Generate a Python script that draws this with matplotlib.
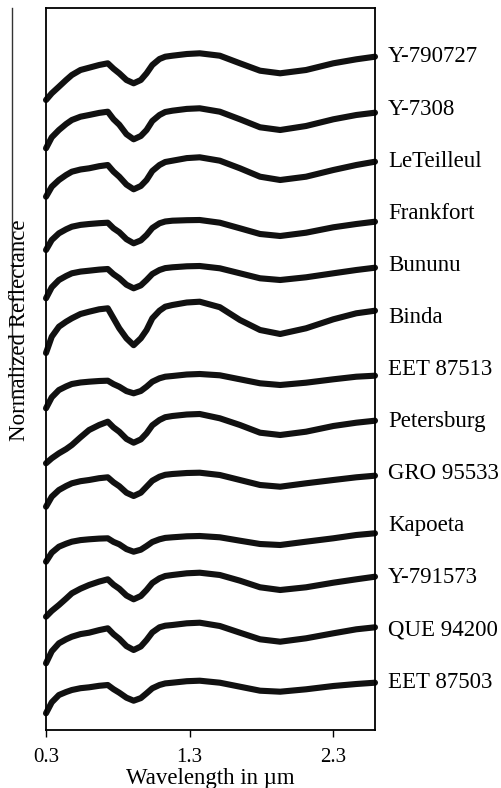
import numpy as np
import matplotlib
matplotlib.use("Agg")
import matplotlib.pyplot as plt
from matplotlib.lines import Line2D

plt.rcParams['font.family'] = ['Liberation Serif', 'DejaVu Serif']

wavelength = [0.30, 0.34, 0.39, 0.44, 0.48, 0.54, 0.60, 0.67, 0.73, 0.77,
              0.81, 0.86, 0.91, 0.96, 1.00, 1.04, 1.09, 1.13, 1.18, 1.28,
              1.37, 1.51, 1.65, 1.79, 1.93, 2.11, 2.30, 2.46, 2.59]

names = ["Y-790727", "Y-7308", "LeTeilleul", "Frankfort", "Bununu", "Binda",
         "EET 87513", "Petersburg", "GRO 95533", "Kapoeta", "Y-791573",
         "QUE 94200", "EET 87503"]

y790727 = [0.567, 0.634, 0.700, 0.767, 0.817, 0.867, 0.890, 0.917, 0.934, 0.880,
           0.834, 0.767, 0.734, 0.767, 0.834, 0.917, 0.977, 1.000, 1.010, 1.027,
           1.034, 1.010, 0.934, 0.860, 0.834, 0.867, 0.934, 0.974, 1.000]
y7308 = [0.644, 0.754, 0.827, 0.887, 0.927, 0.960, 0.977, 0.998, 1.010, 0.935,
         0.880, 0.785, 0.734, 0.767, 0.827, 0.917, 0.977, 1.007, 1.020, 1.038,
         1.044, 1.010, 0.934, 0.854, 0.827, 0.867, 0.934, 0.977, 1.000]
leteilleul = [0.650, 0.750, 0.817, 0.867, 0.900, 0.922, 0.934, 0.955, 0.967, 0.901,
              0.850, 0.771, 0.724, 0.757, 0.817, 0.907, 0.967, 0.997, 1.010, 1.036,
              1.044, 1.010, 0.934, 0.850, 0.817, 0.850, 0.917, 0.967, 1.000]
frankfort = [0.717, 0.817, 0.884, 0.924, 0.950, 0.968, 0.977, 0.985, 0.990, 0.934,
             0.895, 0.825, 0.784, 0.813, 0.867, 0.937, 0.984, 1.002, 1.010, 1.015,
             1.017, 0.990, 0.934, 0.877, 0.857, 0.890, 0.944, 0.977, 1.000]
bununu = [0.694, 0.804, 0.877, 0.917, 0.944, 0.961, 0.970, 0.981, 0.987, 0.935,
          0.895, 0.830, 0.794, 0.823, 0.877, 0.937, 0.977, 0.996, 1.004, 1.014,
          1.017, 0.994, 0.944, 0.894, 0.877, 0.904, 0.944, 0.977, 1.000]
binda = [0.577, 0.740, 0.840, 0.890, 0.924, 0.967, 0.990, 1.014, 1.024, 0.924,
         0.824, 0.724, 0.655, 0.724, 0.807, 0.924, 1.000, 1.040, 1.057, 1.082,
         1.090, 1.035, 0.907, 0.807, 0.767, 0.824, 0.914, 0.974, 1.000]
eet87513 = [0.674, 0.784, 0.857, 0.893, 0.917, 0.932, 0.940, 0.947, 0.950, 0.916,
            0.890, 0.846, 0.824, 0.847, 0.890, 0.940, 0.974, 0.990, 0.997, 1.012,
            1.017, 1.004, 0.964, 0.924, 0.907, 0.930, 0.964, 0.990, 1.000]
petersburg = [0.574, 0.624, 0.674, 0.716, 0.757, 0.834, 0.907, 0.957, 0.990, 0.933,
              0.890, 0.818, 0.780, 0.813, 0.874, 0.954, 1.007, 1.035, 1.047, 1.062,
              1.067, 1.024, 0.957, 0.880, 0.857, 0.890, 0.947, 0.980, 1.000]
gro95533 = [0.690, 0.790, 0.857, 0.897, 0.924, 0.945, 0.957, 0.975, 0.984, 0.934,
            0.895, 0.830, 0.797, 0.830, 0.890, 0.950, 0.990, 1.009, 1.017, 1.027,
            1.030, 1.007, 0.957, 0.907, 0.890, 0.924, 0.957, 0.984, 1.000]
kapoeta = [0.716, 0.806, 0.866, 0.896, 0.916, 0.932, 0.940, 0.947, 0.950, 0.914,
           0.890, 0.842, 0.816, 0.836, 0.873, 0.913, 0.940, 0.954, 0.960, 0.970,
           0.973, 0.960, 0.926, 0.893, 0.883, 0.916, 0.950, 0.983, 1.000]
y791573 = [0.600, 0.658, 0.717, 0.781, 0.834, 0.880, 0.917, 0.951, 0.974, 0.920,
           0.880, 0.812, 0.774, 0.807, 0.867, 0.937, 0.984, 1.007, 1.017, 1.034,
           1.040, 1.017, 0.960, 0.894, 0.867, 0.894, 0.940, 0.974, 1.000]
que94200 = [0.640, 0.760, 0.840, 0.880, 0.906, 0.932, 0.946, 0.972, 0.990, 0.931,
            0.885, 0.812, 0.773, 0.808, 0.873, 0.949, 1.000, 1.016, 1.023, 1.040,
            1.046, 1.013, 0.946, 0.880, 0.856, 0.890, 0.940, 0.980, 1.000]
eet87503 = [0.694, 0.804, 0.877, 0.907, 0.927, 0.945, 0.954, 0.969, 0.977, 0.935,
            0.900, 0.850, 0.820, 0.846, 0.894, 0.944, 0.977, 0.993, 1.000, 1.015,
            1.020, 1.000, 0.960, 0.920, 0.910, 0.934, 0.967, 0.987, 1.000]

spectra = [y790727, y7308, leteilleul, frankfort, bununu, binda, eet87513,
           petersburg, gro95533, kapoeta, y791573, que94200, eet87503]

offsets = [5.733, 5.173, 4.683, 4.083, 3.623, 3.193, 2.543, 2.093, 1.543,
           0.967, 0.533, 0.027, -0.527]

xticks = [0.3, 1.3, 2.3]
xticklabels = ["0.3", "1.3", "2.3"]

W, H = 502, 788
fig = plt.figure(figsize=(W / 100, H / 100), dpi=100)
ax = fig.add_axes([46 / W, 1 - 730 / H, (375 - 46) / W, (730 - 8) / H])

for spec, off in zip(spectra, offsets):
    ax.plot(wavelength, np.array(spec) + off, color='#111111', lw=4.4,
            solid_joinstyle='round', solid_capstyle='round', clip_on=False)

ax.set_xlim(0.3, 2.59)
ax.set_ylim(0, 7.22)
ax.set_yticks([])
ax.set_xticks(xticks)
ax.set_xticklabels(xticklabels, fontsize=15)
ax.tick_params(axis='x', direction='out', length=5, width=1, pad=8)
for s in ax.spines.values():
    s.set_linewidth(1.3)

ax.set_xlabel("Wavelength in µm", fontsize=16.5, labelpad=1)

label_pos = np.linspace((730 - 57) / 722, (730 - 682) / 722, len(names))
for name, yp in zip(names, label_pos):
    ax.text((388 - 46) / 329, yp, name, transform=ax.transAxes,
            fontsize=16.5, va='center', ha='left')

fig.text(20 / W, 1 - 330 / H, "Normalized Reflectance", rotation=90,
         fontsize=16.5, va='center', ha='center')
fig.add_artist(Line2D([12 / W, 12 / W], [1 - 8 / H, 1 - 397 / H],
                      transform=fig.transFigure, color='#333333', lw=1.0))

fig.savefig("out.png", dpi=100)
